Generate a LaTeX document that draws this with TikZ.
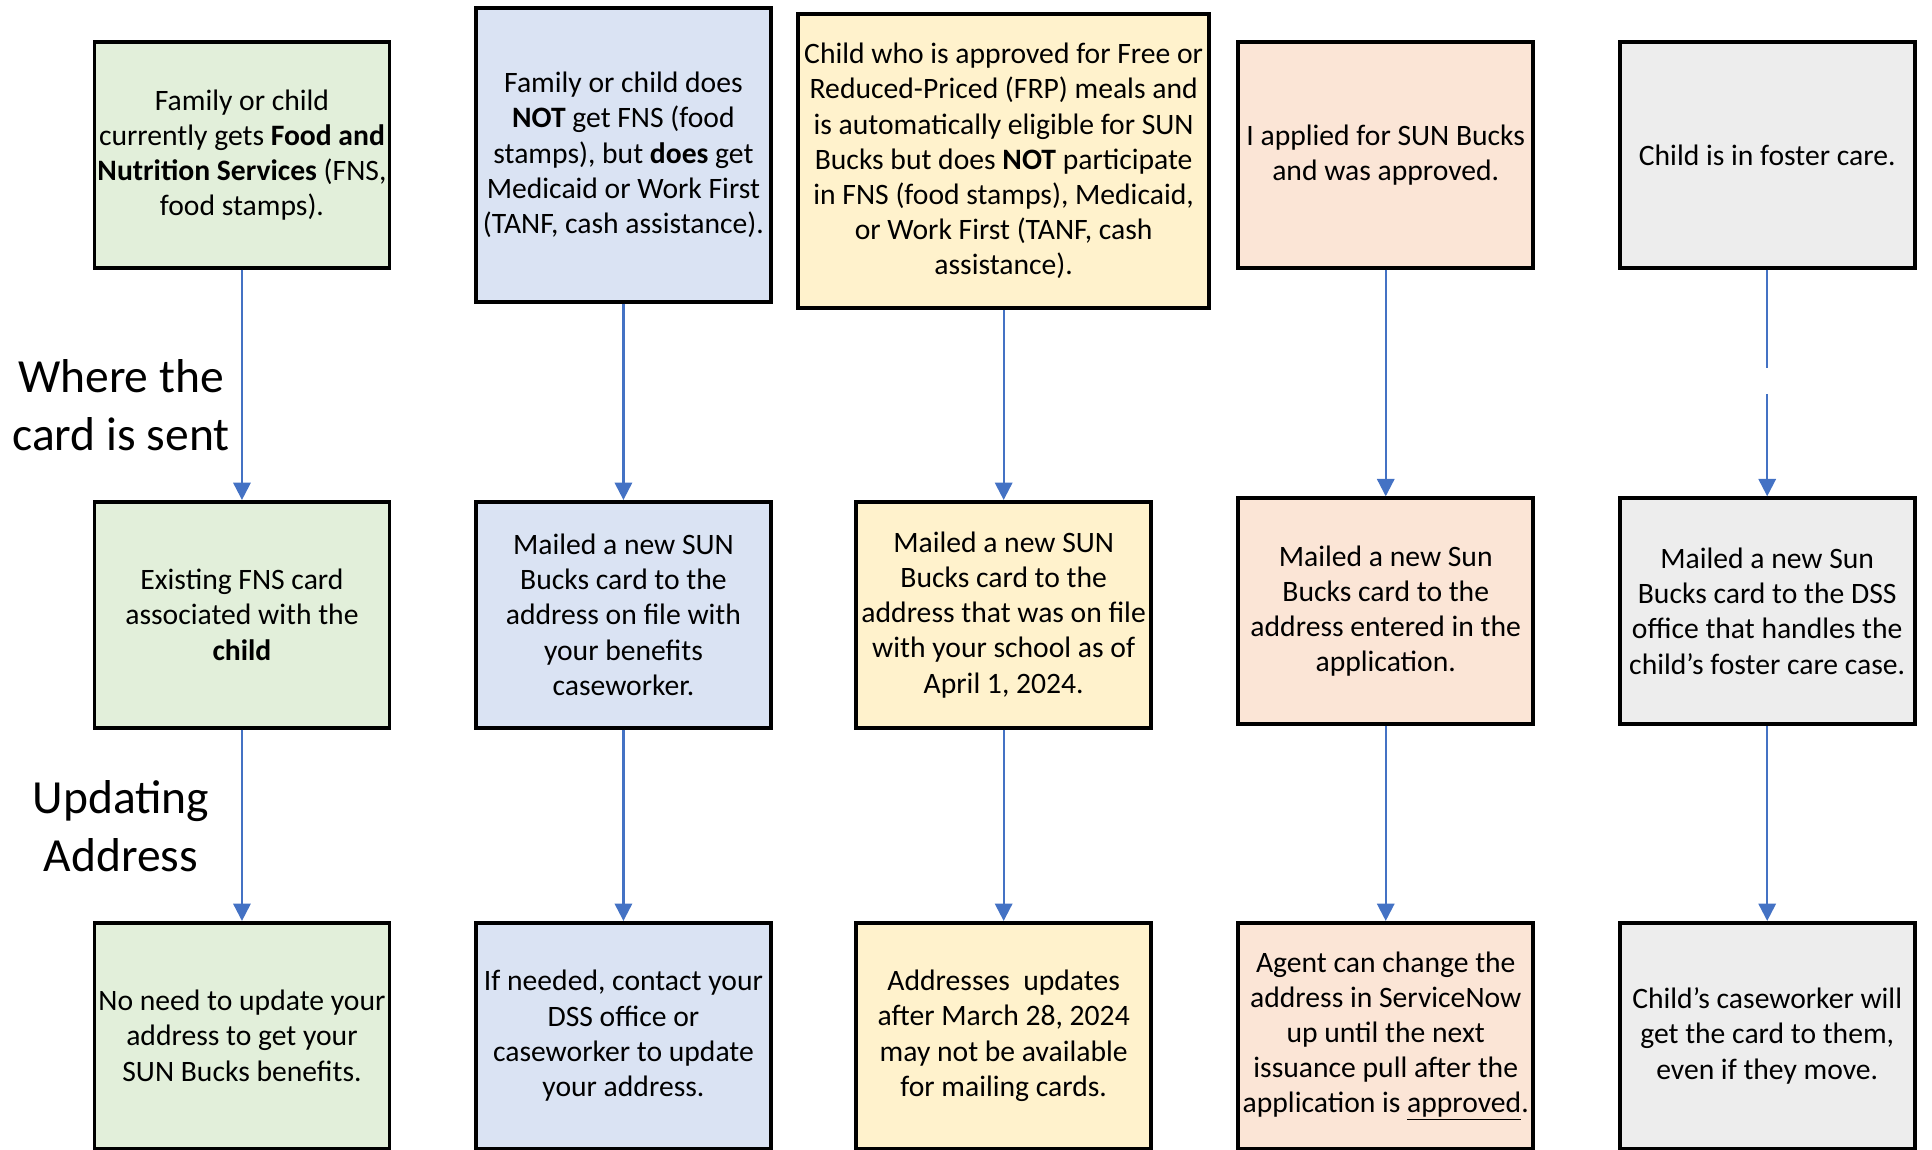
\documentclass[tikz,border=0pt]{standalone}
\usepackage{fontspec}
\setmainfont{Carlito}
\usetikzlibrary{arrows.meta}
\definecolor{cgreen}{HTML}{E2EFDA}
\definecolor{cblue}{HTML}{DAE3F3}
\definecolor{cyellow}{HTML}{FFF2CC}
\definecolor{cpeach}{HTML}{FBE5D6}
\definecolor{cgray}{HTML}{EDEDED}
\definecolor{carrow}{HTML}{4472C4}
\begin{document}
\begin{tikzpicture}[x=1pt,y=-1pt,
  box/.style={draw=black, line width=3pt, inner sep=1pt, align=center,
    font=\fontsize{24}{28.5}\selectfont, minimum width=239pt, minimum height=183pt},
  lab/.style={align=center, inner sep=0pt, font=\fontsize{38.5}{47}\selectfont},
  conn/.style={draw=carrow, line width=1.8pt},
  arr/.style={conn, -{Triangle[width=14pt,length=14pt]}}
]
\useasboundingbox (0,0) rectangle (1565,931);
% top row
\node[box, fill=cgreen] (t1) at (196,125.5) {Family or child\\currently gets \textbf{Food and}\\\textbf{Nutrition Services} (FNS,\\food stamps).};
\node[box, fill=cblue, minimum height=238pt] (t2) at (505,125.5) {Family or child does\\\textbf{NOT} get FNS (food\\stamps), but \textbf{does} get\\Medicaid or Work First\\(TANF, cash assistance).};
\node[box, fill=cyellow, minimum width=333pt, minimum height=238pt] (t3) at (813,130.5) {Child who is approved for Free or\\Reduced-Priced (FRP) meals and\\is automatically eligible for SUN\\Bucks but does \textbf{NOT} participate\\in FNS (food stamps), Medicaid,\\or Work First (TANF, cash\\assistance).};
\node[box, fill=cpeach] (t4) at (1122.5,125.5) {I applied for SUN Bucks\\and was approved.};
\node[box, fill=cgray] (t5) at (1431.5,125.5) {Child is in foster care.};
% middle row
\node[box, fill=cgreen] (m1) at (196,498) {Existing FNS card\\associated with the\\\textbf{child}};
\node[box, fill=cblue] (m2) at (505,498) {Mailed a new SUN\\Bucks card to the\\address on file with\\your benefits\\caseworker.};
\node[box, fill=cyellow] (m3) at (813,498) {Mailed a new SUN\\Bucks card to the\\address that was on file\\with your school as of\\April 1, 2024.};
\node[box, fill=cpeach] (m4) at (1122.5,495) {Mailed a new Sun\\Bucks card to the\\address entered in the\\application.};
\node[box, fill=cgray] (m5) at (1431.5,495) {Mailed a new Sun\\Bucks card to the DSS\\office that handles the\\child’s foster care case.};
% bottom row
\node[box, fill=cgreen] (b1) at (196,839) {No need to update your\\address to get your\\SUN Bucks benefits.};
\node[box, fill=cblue] (b2) at (505,839) {If needed, contact your\\DSS office or\\caseworker to update\\your address.};
\node[box, fill=cyellow] (b3) at (813,839) {Addresses\ \ updates\\after March 28, 2024\\may not be available\\for mailing cards.};
\node[box, fill=cpeach] (b4) at (1122.5,839) {Agent can change the\\address in ServiceNow\\up until the next\\issuance pull after the\\application is \underline{approved}.};
\node[box, fill=cgray] (b5) at (1431.5,839) {Child’s caseworker will\\get the card to them,\\even if they move.};
% row labels
\node[lab] (l1) at (98,328) {Where the\\card is sent};
\node[lab] (l2) at (98,669) {Updating\\Address};
% connectors
\draw[arr] (t1) -- (m1);
\draw[arr] (t2) -- (m2);
\draw[arr] (t3) -- (m3);
\draw[arr] (t4) -- (m4);
\coordinate (g1) at (1431.5,298);
\coordinate (g2) at (1431.5,319);
\draw[conn] (t5.south) -- (g1);
\draw[arr] (g2) -- (m5);
\draw[arr] (m1) -- (b1);
\draw[arr] (m2) -- (b2);
\draw[arr] (m3) -- (b3);
\draw[arr] (m4) -- (b4);
\draw[arr] (m5) -- (b5);
\end{tikzpicture}
\end{document}
